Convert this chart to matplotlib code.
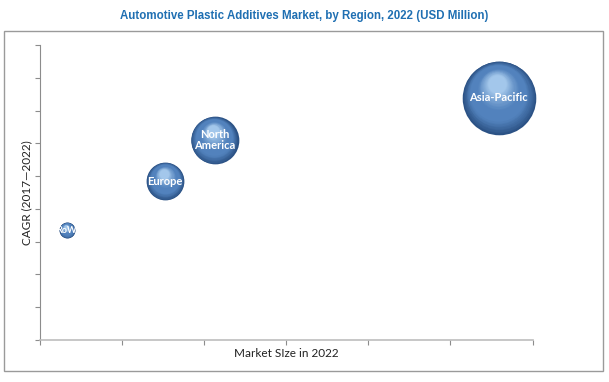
import matplotlib.pyplot as plt
import matplotlib.patches as mpatches
from matplotlib import font_manager
from matplotlib.transforms import ScaledTranslation
import numpy as np

# ============ data ============
regions = ['RoW', 'Europe', 'North\nAmerica', 'Asia-Pacific']
market_size = [0.33, 1.53, 2.13, 5.59]   # x position (no scale shown)
cagr = [3.35, 4.85, 6.1, 7.4]            # y position (no scale shown)
bubble_value = [64, 361, 576, 1369]      # relative market value -> bubble area

x_ticks = np.arange(0, 7, 1)
y_ticks = np.arange(0, 10, 1)

installed = {f.name for f in font_manager.fontManager.ttflist}
if 'Liberation Sans Narrow' in installed:
    title_font, title_size = 'Liberation Sans Narrow', 10.5
else:
    title_font, title_size = 'Liberation Sans', 8.3

fig = plt.figure(figsize=(6.09, 3.82), dpi=100)

# outer frame
fig.patches.append(mpatches.Rectangle((4 / 609, 11 / 382), 599 / 609, 340 / 382,
                                      transform=fig.transFigure, fill=False,
                                      edgecolor='#9a9a9a', linewidth=1))

fig.text(0.5, 0.958, 'Automotive Plastic Additives Market, by Region, 2022 (USD Million)',
         ha='center', va='center', fontsize=title_size, fontweight='bold',
         color='#1f6fb2', family=[title_font, 'DejaVu Sans'])

ax = fig.add_axes([0.0649, 0.1099, 0.8095, 0.772])
ax.set_xlim(0, 6)
ax.set_ylim(0, 9)
ax.set_xticks(x_ticks)
ax.set_yticks(y_ticks)
ax.set_xticklabels([])
ax.set_yticklabels([])
for s in ['top', 'right']:
    ax.spines[s].set_visible(False)
ax.spines['left'].set_color('#8c8c8c')
ax.spines['bottom'].set_color('#bdbdbd')
ax.spines['bottom'].set_linewidth(1.2)
ax.tick_params(axis='both', direction='out', length=3.5, color='#8c8c8c', width=0.8)

# pseudo 3D spheres: stacked circles shifting toward highlight
scale = 2.05
n_layers = 30
dark = np.array([0.17, 0.32, 0.52])
mid = np.array([0.32, 0.51, 0.74])
light = np.array([0.64, 0.78, 0.92])

for x, y, v in zip(market_size, cagr, bubble_value):
    r_pt = np.sqrt(v * scale) / 2  # radius in points
    for k in range(n_layers):
        t = k / (n_layers - 1)
        if t < 0.3:
            c = dark + (mid - dark) * (t / 0.3)
        elif t < 0.55:
            c = mid
        else:
            c = mid + (light - mid) * ((t - 0.55) / 0.45) ** 1.2
        rr = r_pt * (1 - 0.75 * t)
        dx = -0.05 * r_pt * t / 72
        dy = 0.38 * r_pt * t / 72
        tr = ax.transData + ScaledTranslation(dx, dy, fig.dpi_scale_trans)
        ax.scatter([x], [y], s=(2 * rr) ** 2, color=c, transform=tr,
                   linewidths=0, zorder=3 + k * 0.01, clip_on=False)

for x, y, lab, v in zip(market_size, cagr, regions, bubble_value):
    fs = 6.5 if v < 100 else 8
    ax.text(x, y, lab, ha='center', va='center', color='white', fontsize=fs,
            fontweight='bold', family=['Lato', 'DejaVu Sans'], zorder=5,
            linespacing=1.0)

ax.set_ylabel('CAGR (2017\u20142022)', fontsize=8.5, family=['Lato', 'DejaVu Sans'],
              labelpad=-2, color='#222222')
ax.set_xlabel('Market SIze in 2022', fontsize=8.5, family=['Lato', 'DejaVu Sans'],
              labelpad=-1, color='#222222')

plt.savefig('out.png', dpi=100, facecolor='white')
plt.close()
